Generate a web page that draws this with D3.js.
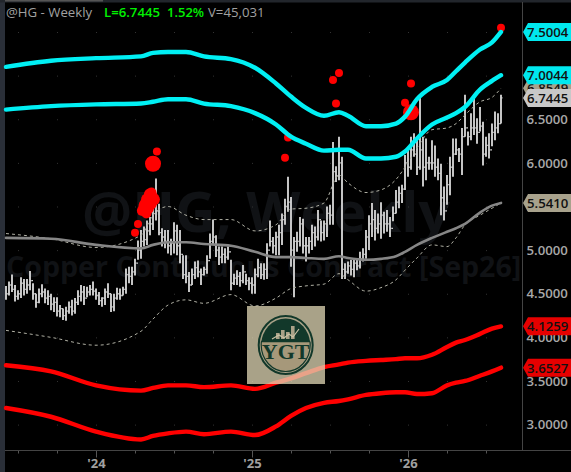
<!DOCTYPE html>
<html><head><meta charset="utf-8">
<style>html,body{margin:0;padding:0;background:#000;overflow:hidden}svg{display:block}</style>
<script src="https://d3js.org/d3.v7.min.js"></script></head><body><svg id="c" width="571" height="472"></svg>
<script>
const highs=[4.59,4.64,4.72,4.60,4.54,4.69,4.67,4.67,4.76,4.62,4.50,4.56,4.61,4.56,4.54,4.50,4.46,4.46,4.37,4.33,4.35,4.41,4.43,4.45,4.54,4.60,4.59,4.58,4.60,4.64,4.56,4.52,4.46,4.56,4.62,4.50,4.50,4.57,4.56,4.58,4.79,4.81,
4.81,4.90,5.11,5.23,5.27,5.34,5.38,5.69,5.82,5.53,5.25,5.23,5.23,5.13,5.32,5.29,5.23,4.94,4.94,4.75,4.79,4.87,4.88,4.79,4.81,4.94,5.19,5.35,5.17,5.04,5.04,5.02,5.04,4.89,4.73,4.77,4.75,4.83,4.73,4.69,4.69,
4.79,4.90,4.85,4.85,5.08,5.34,5.15,5.21,5.29,5.42,5.59,5.84,5.61,5.15,5.21,5.38,5.36,5.15,5.15,5.29,5.27,5.46,5.34,5.34,5.50,5.52,6.24,5.96,6.30,6.07,4.85,4.87,4.89,4.90,4.90,4.98,5.02,5.23,5.40,5.54,5.46,5.42,
5.55,5.44,5.46,5.38,5.50,5.69,5.73,5.75,6.09,6.17,6.30,6.34,6.26,6.78,6.30,6.28,6.07,6.26,6.20,6.05,5.99,5.73,5.86,6.07,6.28,6.28,6.17,6.40,6.78,6.36,6.57,6.78,6.51,6.64,6.47,6.30,6.34,6.45,6.59,6.57,6.78];
const lows=[4.43,4.48,4.52,4.41,4.43,4.45,4.48,4.50,4.54,4.43,4.34,4.39,4.46,4.39,4.37,4.31,4.29,4.24,4.23,4.20,4.19,4.27,4.25,4.27,4.37,4.41,4.37,4.46,4.48,4.48,4.43,4.37,4.35,4.37,4.45,4.29,4.30,4.43,4.43,4.48,4.50,4.62,
4.60,4.71,4.89,4.90,5.04,5.06,5.17,5.23,5.34,5.17,5.04,5.02,4.96,4.94,4.96,4.94,4.85,4.67,4.62,4.52,4.60,4.67,4.69,4.60,4.71,4.73,4.90,5.06,4.92,4.83,4.85,4.85,4.89,4.54,4.60,4.60,4.58,4.62,4.60,4.54,4.50,
4.50,4.69,4.67,4.66,4.67,5.04,4.96,4.94,4.94,5.06,5.29,5.44,4.81,4.46,4.98,5.04,4.96,4.87,4.96,5.00,5.04,5.11,5.10,5.11,5.15,5.29,5.29,5.78,5.80,4.67,4.67,4.73,4.71,4.69,4.77,4.79,4.87,4.90,5.00,5.15,5.11,5.19,
5.13,5.19,5.21,5.15,5.33,5.42,5.48,5.54,5.69,5.84,5.92,6.07,5.86,5.92,5.73,5.80,5.92,5.92,5.84,5.80,5.40,5.34,5.52,5.63,5.84,6.09,6.01,5.86,6.30,6.20,6.26,6.32,6.22,6.36,5.97,6.07,6.05,6.19,6.26,6.34,6.45];
const closes=[4.50,4.60,4.55,4.47,4.50,4.62,4.55,4.60,4.65,4.50,4.40,4.50,4.52,4.45,4.47,4.38,4.40,4.30,4.33,4.25,4.30,4.35,4.30,4.40,4.47,4.52,4.45,4.52,4.55,4.53,4.48,4.42,4.45,4.52,4.50,4.35,4.45,4.50,4.48,4.55,4.72,4.70,
4.75,4.85,5.00,5.10,5.12,5.22,5.30,5.55,5.45,5.20,5.15,5.10,5.05,5.08,5.22,5.05,4.95,4.72,4.70,4.60,4.72,4.80,4.75,4.72,4.78,4.88,5.10,5.15,5.00,4.92,4.95,4.92,4.98,4.62,4.68,4.70,4.65,4.75,4.65,4.62,4.60,
4.72,4.80,4.72,4.78,5.00,5.10,5.05,5.15,5.20,5.35,5.50,5.55,5.00,5.10,5.10,5.30,5.05,5.05,5.10,5.20,5.15,5.35,5.20,5.30,5.42,5.40,5.90,5.85,6.00,4.78,4.75,4.82,4.78,4.85,4.82,4.90,4.95,5.15,5.30,5.35,5.25,5.30,
5.40,5.30,5.30,5.25,5.42,5.55,5.65,5.70,6.00,5.95,6.15,6.10,5.95,6.15,5.95,6.00,6.00,6.00,5.95,5.88,5.60,5.45,5.75,5.95,6.10,6.15,6.10,6.30,6.40,6.30,6.40,6.40,6.35,6.42,6.10,6.20,6.15,6.35,6.40,6.45,6.7445];
const knotBars=[0,15,30,45,49,54,60,66,75,83,90,95,100,106,111,114,120,125,130,133,137,142,147,150,153,158,162,165];
const cyanUpper=[7.10,7.17,7.20,7.22,7.26,7.27,7.27,7.22,7.19,7.09,6.91,6.76,6.63,6.54,6.58,6.54,6.42,6.42,6.45,6.53,6.73,6.87,6.95,7.05,7.15,7.30,7.38,7.5004];
const cyanLower=[6.61,6.65,6.67,6.68,6.70,6.73,6.73,6.68,6.65,6.57,6.44,6.30,6.22,6.14,6.15,6.15,6.05,6.05,6.07,6.13,6.28,6.44,6.52,6.57,6.64,6.84,6.94,7.0044];
const redUpper=[3.68,3.61,3.45,3.39,3.42,3.45,3.45,3.43,3.45,3.41,3.48,3.53,3.59,3.66,3.69,3.71,3.73,3.74,3.75,3.76,3.76,3.80,3.89,3.94,3.97,4.04,4.10,4.1259];
const redLower=[3.19,3.09,2.92,2.83,2.87,2.90,2.92,2.89,2.92,2.88,2.98,3.10,3.19,3.25,3.27,3.29,3.34,3.36,3.37,3.37,3.35,3.36,3.45,3.48,3.50,3.56,3.61,3.6527];
const grayAverage=[5.14,5.13,5.06,5.02,5.06,5.09,5.09,5.07,5.05,4.98,4.92,4.92,4.91,4.90,4.93,4.91,4.89,4.90,4.93,4.98,5.06,5.14,5.21,5.25,5.30,5.43,5.51,5.541];
const dashUpper=[5.19,5.13,5.03,5.17,5.40,5.50,5.40,5.35,5.35,5.22,5.29,5.47,5.48,5.54,5.86,5.77,5.66,5.69,5.81,5.95,6.17,6.38,6.40,6.45,6.55,6.70,6.75,6.8549];
const dashLower=[4.08,4.00,3.91,4.07,4.21,4.37,4.43,4.39,4.49,4.36,4.45,4.56,4.59,4.61,4.73,4.66,4.53,4.57,4.66,4.77,4.91,5.06,5.04,5.14,5.29,5.40,5.48,5.54];
const dotBars=[49,50.3,43,44,45.3,46.3,47,48,48.7,49.3,47.3,46,48.3,48.5,47.5,46.8,45.8,93,94,109,111,110,135,133,135,165];
const dotPrices=[5.99,6.13,5.20,5.30,5.45,5.52,5.58,5.64,5.61,5.58,5.48,5.46,5.53,5.66,5.62,5.42,5.50,6.06,6.29,6.95,7.03,6.68,6.91,6.69,6.58,7.55];
const dotRadii=[8,4,4,4,5,6,6,6,6,6,6,6,6,5,5,5,5,4,4,4,4,4,4,4,8,4];
const priceTicks=[3,3.5,4,4.5,5,5.5,6,6.5];
const quarterTicks=[4,17,30,43,56,69,82,95,108,121,134,147,160];
const yearLabels={30:"'24",82:"'25",134:"'26"};
const tagValues=[6.8549,7.5004,7.0044,6.7445,5.5410,4.1259,3.6527];
const tagFills=["#a8a28c","#00e8ee","#00e8ee","#c8c8c8","#a8a28c","#e60000","#e60000"];

const svg=d3.select("#c");
const x=d3.scaleLinear().domain([0,165]).range([6,501]);
const y=d3.scaleLinear().domain([3,7.5]).range([424.6,32]);
const FONT="'Open Sans',sans-serif";

svg.append("rect").attr("width",571).attr("height",472).attr("fill","#000");
svg.append("rect").attr("width",5).attr("height",472).attr("fill","#2a2f38");
svg.append("rect").attr("width",571).attr("height",2.5).attr("fill","#22262c");
svg.append("rect").attr("x",5).attr("width",98).attr("height",1.5).attr("fill","#555");

// watermark
svg.append("text").attr("x",82).attr("y",232).attr("font-family",FONT).attr("font-weight",700).attr("font-size",56).attr("fill","#101215").text("@HG, Weekly");
svg.append("text").attr("x",6).attr("y",277).attr("font-family",FONT).attr("font-weight",700).attr("font-size",28.6).attr("fill","#101215").text("Copper Continuous Contract [Sep26]");

// grid dots
const gd=svg.append("g");
priceTicks.concat([7,7.5]).forEach(p=>quarterTicks.forEach(q=>gd.append("rect").attr("x",x(q)).attr("y",y(p)).attr("width",1).attr("height",1).attr("fill","#333")));

// axes
const xAxis=d3.axisBottom(x).tickValues(quarterTicks).tickSize(3).tickFormat(d=>yearLabels[d]||"");
const gx=svg.append("g").attr("transform","translate(0,450.5)").call(xAxis);
gx.select(".domain").remove();
gx.selectAll(".tick line").attr("stroke","#555").attr("y2",d=>yearLabels[d]?7:3);
gx.selectAll(".tick text").attr("font-family",FONT).attr("font-size",13).attr("font-weight",700).attr("fill","#a0a0a0").attr("y",8);
svg.append("line").attr("x1",5).attr("x2",571).attr("y1",450.5).attr("y2",450.5).attr("stroke","#444");
svg.append("line").attr("x1",522.5).attr("x2",522.5).attr("y1",2).attr("y2",450).attr("stroke","#444");
const yAxis=d3.axisRight(y).tickValues(priceTicks).tickSize(0).tickFormat(d3.format(".4f"));
const gy=svg.append("g").attr("transform","translate(522.5,0)").call(yAxis);
gy.select(".domain").remove();
gy.selectAll(".tick text").attr("x",4).attr("font-family",FONT).attr("font-weight",600).attr("font-size",13.2).attr("fill","#a8a8a8");

// bars
const bars=svg.append("g").attr("stroke","#cfcfcf");
highs.forEach((h,i)=>{
  bars.append("line").attr("x1",x(i)).attr("x2",x(i)).attr("y1",y(h)).attr("y2",y(lows[i])).attr("stroke-width",1.9);
  if(i>0)bars.append("line").attr("x1",x(i)-1.5).attr("x2",x(i)).attr("y1",y(closes[i-1])).attr("y2",y(closes[i-1])).attr("stroke-width",1.3);
  bars.append("line").attr("x1",x(i)).attr("x2",x(i)+1.5).attr("y1",y(closes[i])).attr("y2",y(closes[i])).attr("stroke-width",1.3);
});

const line=d3.line().x((d,i)=>x(knotBars[i])).y(d=>y(d)).curve(d3.curveMonotoneX);
function draw(vals,color,w,dash){
  const p=svg.append("path").attr("d",line(vals)).attr("fill","none").attr("stroke",color).attr("stroke-width",w).attr("stroke-linecap",dash?"butt":"round");
  if(dash)p.attr("stroke-dasharray",dash);
}
draw(dashUpper,"#b0b0a4",1,"3 3");
draw(dashLower,"#b0b0a4",1,"3 3");
draw(grayAverage,"#868686",2.6);

// dots
svg.append("g").selectAll("circle").data(dotBars).join("circle")
  .attr("cx",d=>x(d)).attr("cy",(d,i)=>y(dotPrices[i])).attr("r",(d,i)=>dotRadii[i]).attr("fill","#ff0000");

draw(cyanUpper,"#00f0f4",4.4);
draw(cyanLower,"#00f0f4",4.4);
draw(redUpper,"#ff0000",4.4);
draw(redLower,"#ff0000",4.4);

// logo
const L=svg.append("g");
L.append("rect").attr("x",247).attr("y",306).attr("width",78).attr("height",78).attr("fill","#e2d8b6").attr("fill-opacity",.75);
const cx=285.7,cy=345;
L.append("clipPath").attr("id","top").append("rect").attr("x",250).attr("y",300).attr("width",70).attr("height",41.5);
L.append("clipPath").attr("id","bot").append("rect").attr("x",250).attr("y",341.5).attr("width",70).attr("height",40);
L.append("ellipse").attr("cx",cx).attr("cy",cy).attr("rx",27).attr("ry",29).attr("fill","none").attr("stroke","#12382a").attr("stroke-width",2);
L.append("ellipse").attr("cx",cx).attr("cy",cy).attr("rx",24.5).attr("ry",26.5).attr("fill","#12382a").attr("clip-path","url(#top)");
L.append("ellipse").attr("cx",cx).attr("cy",cy).attr("rx",24.5).attr("ry",26.5).attr("fill","#a6987a").attr("stroke","#12382a").attr("stroke-width",1.2).attr("clip-path","url(#bot)");
L.append("line").attr("x1",261).attr("x2",310).attr("y1",341.5).attr("y2",341.5).attr("stroke","#12382a").attr("stroke-width",1.5);
[[279,333,6],[284,330,9],[289,332,7],[294,326,13]].forEach(b=>L.append("rect").attr("x",b[0]-3).attr("y",b[1]).attr("width",3.6).attr("height",b[2]).attr("fill","#a9a288"));
L.append("path").attr("d","M272 339L279 335L284 338L289 334L293 337L299 329").attr("fill","none").attr("stroke","#c9c2a5").attr("stroke-width",1.2);
L.append("text").attr("x",cx).attr("y",359).attr("text-anchor","middle").attr("font-family","'Liberation Serif',serif").attr("font-weight",700).attr("font-size",22).attr("fill","#12382a").text("YGT");

// tags
const tags=svg.append("g");
tagValues.forEach((v,i)=>{
  const yy=y(v);
  tags.append("path").attr("d",`M523 ${yy}L528 ${yy-9}L571 ${yy-9}L571 ${yy+9}L528 ${yy+9}Z`).attr("fill",tagFills[i]);
  tags.append("text").attr("x",527).attr("y",yy+5).attr("font-family",FONT).attr("font-weight",600).attr("font-size",13.2).attr("fill","#111").text(v.toFixed(4));
});

// header
const hdr=[["@HG - Weekly",6,"#a0a0a0",400],["L=6.7445",104,"#00f000",600],["1.52%",167,"#00f000",600],["V=45,031",208,"#a0a0a0",400]];
hdr.forEach(h=>svg.append("text").attr("x",h[1]).attr("y",17).attr("font-family",FONT).attr("font-weight",h[3]).attr("font-size",h[1]===167?13:13.2).attr("fill",h[2]).text(h[0]));
</script></body></html>
